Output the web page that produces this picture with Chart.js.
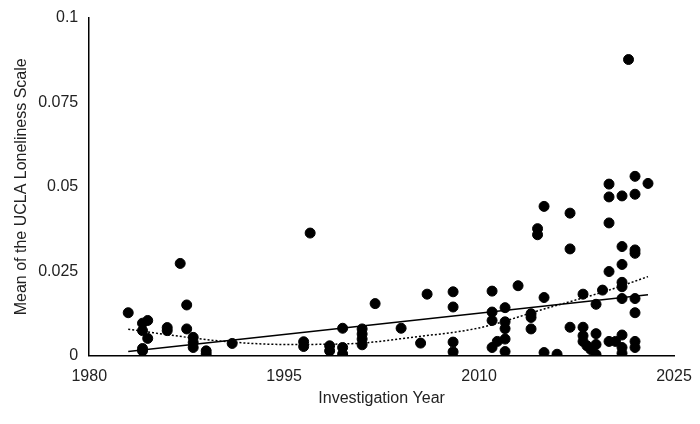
<!DOCTYPE html>
<html>
<head>
<script src="https://cdn.jsdelivr.net/npm/chart.js@4"></script>
<style>body{margin:0;background:#fff}#wrap{width:700px;height:424px}</style>
</head>
<body>
<div id="wrap"><canvas id="c"></canvas></div>
<script>
const years = [1983,1984.1,1984.5,1984.1,1984.5,1984.1,1984.1,1986,1986,1987,1987.5,1987.5,1988,1988,1988,1989,1989,1991,1997,1996.5,1996.5,1998.5,1998.5,1999.5,1999.5,1999.5,2001,2001,2001,2001,2002,
  2004,2005.5,2006,2008,2008,2008,2008,2011,2011,2011,2011,2011.4,2012,2012,2012,2012,2012,2013,2014,2014,2014,2014.5,2014.5,2015,2015,2015,2016,2017,2017,2017,
  2018,2018,2018,2018,2018.3,2018.6,2019,2019,2019,2019,2019.5,2020,2020,2020,2020,2020,2020.5,2021,2021,2021,2021,2021,2021,2021,2021,2021,2021.5,2022,2022,2022,2022,2022,2022,2022,2022,2023];
const means = [.0127,.0096,.0104,.0074,.0051,.0021,.0014,.0083,.0074,.0273,.015,.0079,.0054,.0039,.0024,.0014,.0005,.0036,.0363,.0041,.0027,.0029,.0014,.0081,.0024,.0005,.0079,.0064,.0049,.0032,.0154,
  .0081,.0037,.0182,.0189,.0144,.004,.0011,.0191,.0129,.0104,.0024,.0042,.0142,.01,.008,.0049,.0012,.0207,.0124,.0113,.0079,.0376,.0358,.0442,.0172,.0009,.0004,.0422,.0316,.0084,
  .0182,.0084,.0059,.0042,.0029,.0018,.0152,.0065,.0033,.0003,.0194,.0508,.047,.0393,.0249,.0042,.0042,.0473,.0323,.027,.0217,.0204,.0169,.0061,.0024,.0007,.0877,.0531,.0478,.0313,.0303,.0169,.0127,.0042,.0024,.051];
const linYears = [1983, 2023];
const linVals = [.0012, .018];
const polyYears = [1983,1988,1991,1995,2000,2005,2010,2015,2020,2023];
const polyVals = [.0078,.0052,.004,.0033,.0035,.0055,.0082,.0138,.0194,.0234];
const yTicks = [0, 0.025, 0.05, 0.075, 0.1];

const pts = (xs, ys) => xs.map((x, i) => ({x: x, y: ys[i]}));
const font = {family: "Liberation Sans", size: 16};
new Chart(document.getElementById("c"), {
  type: "scatter",
  data: {
    datasets: [
      {data: pts(years, means), backgroundColor: "#000", borderColor: "#000", pointRadius: 5, pointHoverRadius: 5},
      {type: "line", data: pts(linYears, linVals), borderColor: "#000", borderWidth: 1.5, pointRadius: 0, fill: false},
      {type: "line", data: pts(polyYears, polyVals), borderColor: "#000", borderWidth: 1.5, borderDash: [2, 2], pointRadius: 0, tension: 0.4, cubicInterpolationMode: "monotone", fill: false}
    ]
  },
  options: {
    responsive: true, maintainAspectRatio: false, animation: false,
    layout: {padding: {top: 18, right: 26, left: 8, bottom: 12}},
    plugins: {legend: {display: false}, tooltip: {enabled: false}},
    scales: {
      x: {
        type: "linear", min: 1980, max: 2025,
        afterBuildTicks: (a) => { a.ticks = [1980, 1995, 2010, 2025].map(v => ({value: v})); },
        grid: {display: false},
        border: {color: "#000", width: 1.5},
        ticks: {color: "#222", font: font, callback: (v) => String(v)},
        title: {display: true, text: "Investigation Year", color: "#222", font: font, padding: {top: 0}}
      },
      y: {
        min: 0, max: 0.1,
        afterBuildTicks: (a) => { a.ticks = yTicks.map(v => ({value: v})); },
        grid: {display: false},
        border: {color: "#000", width: 1.5},
        ticks: {color: "#222", font: font, callback: (v) => String(v)},
        title: {display: true, text: "Mean of the UCLA Loneliness Scale", color: "#222", font: font}
      }
    }
  }
});
</script>
</body>
</html>
